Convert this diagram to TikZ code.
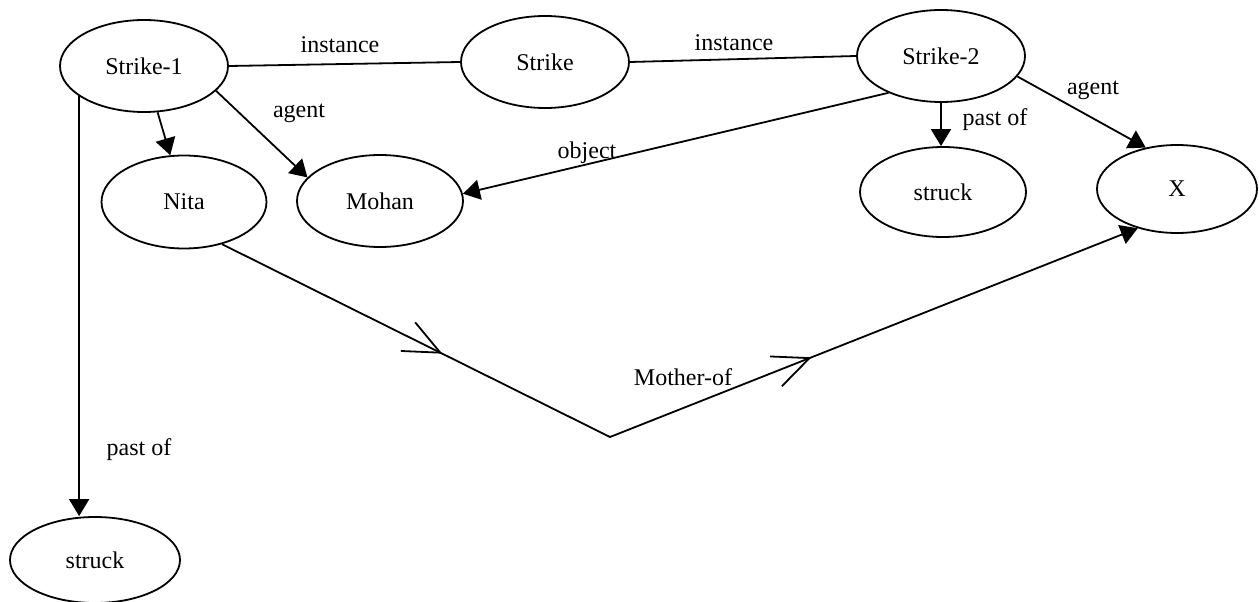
\documentclass[tikz,border=0pt]{standalone}
\usepackage{fontspec}
\setmainfont{Liberation Serif}
\usetikzlibrary{shapes.geometric,arrows.meta,decorations.markings}
\begin{document}
\begin{tikzpicture}[x=1pt,y=-1pt,
  font=\fontsize{24}{28}\selectfont,
  concept/.style={ellipse,draw,line width=1.8pt,inner sep=0pt,minimum width=168pt,minimum height=92pt},
  rel/.style={line width=1.8pt},
  tip/.style={-{Triangle[length=17pt,width=20pt]}},
  lbl/.style={inner sep=0pt}
]
\path[use as bounding box] (0,0) rectangle (1259,602);

\node[concept] (s1) at (144,66) {Strike-1};
\node[concept] (s) at (545,62) {Strike};
\node[concept] (s2) at (941,56) {Strike-2};
\node[concept,minimum width=165pt,minimum height=93pt] (nita) at (184,202) {Nita};
\node[concept,minimum width=166pt] (mohan) at (380,201) {Mohan};
\node[concept,minimum width=166pt,minimum height=90pt] (st1) at (943,192) {struck};
\node[concept,minimum width=160pt,minimum height=88pt] (x) at (1177,189) {X};
\node[concept,minimum width=170pt,minimum height=86pt] (st2) at (95,560) {struck};

\coordinate (v) at (610,437);

% instance links
\draw[rel] (s1.east) -- (s.west);
\draw[rel] (s.east) -- (s2.west);
\node[lbl] (li1) at (340,45) {instance};
\node[lbl] (li2) at (734,43) {instance};

% Strike-1 edges
\draw[rel,tip] (s1) -- (nita);
\draw[rel,tip] (s1.-19) -- (mohan.162);
\node[lbl] (la1) at (299,113) {agent};
\draw[rel,tip] (s1.205) -- (s1.205 |- st2.north);
\node[lbl] (lp1) at (139,450) {past of};

% Strike-2 edges
\draw[rel,tip] (s2.215) -- (mohan.5);
\node[lbl] (lo) at (587,153) {object};
\draw[rel,tip] (s2.south) -- (s2.south |- st1.north);
\node[lbl] (lp2) at (995,120) {past of};
\draw[rel,tip] (s2.-15) -- (x.127);
\node[lbl] (la2) at (1093,90) {agent};

% Mother-of
\draw[rel,tip,
  postaction={decorate,decoration={markings,
    mark=at position 246pt with {\arrow{Straight Barb[length=36pt,width=32pt,line width=1.8pt]}},
    mark=at position 650pt with {\arrow{Straight Barb[length=36pt,width=32pt,line width=1.8pt]}}}}]
  (nita.-48) -- (v) -- (x.225);
\node[lbl] (lm) at (683,377) {Mother-of};
\end{tikzpicture}
\end{document}
